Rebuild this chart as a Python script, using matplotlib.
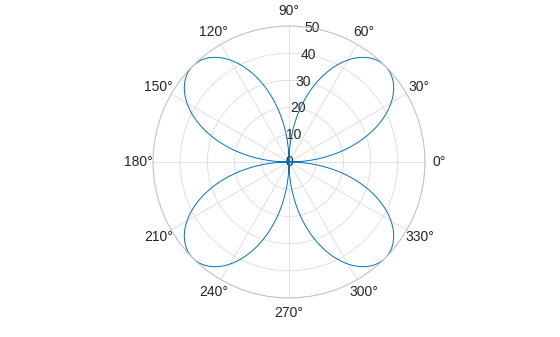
import numpy as np
import matplotlib.pyplot as plt

plt.rcParams['font.family'] = ['Liberation Sans', 'DejaVu Sans']

# rose curve r = amplitude * |sin(petals/2 * theta)|
amplitude = 50
petal_factor = 2
theta = np.arange(0, 2 * np.pi, 0.001)
rho = amplitude * np.abs(np.sin(petal_factor * theta))

r_ticks = [0, 10, 20, 30, 40, 50]
theta_ticks = [0, 30, 60, 90, 120, 150, 180, 210, 240, 270, 300, 330]
theta_labels = [f'{t}°' for t in theta_ticks]

fig = plt.figure(figsize=(5.6, 3.37), dpi=100)
ax = fig.add_axes([0.2732, 0.1157, 0.4857, 0.8071], projection='polar')

ax.plot(theta, rho, color='#0072BD', linewidth=0.7)

ax.set_ylim(0, 50)
ax.set_yticks(r_ticks)
ax.set_yticklabels([str(r) for r in r_ticks], fontsize=10, color='#262626')
ax.set_rlabel_position(80)
ax.set_xticks(np.deg2rad(theta_ticks))
ax.set_xticklabels(theta_labels, fontsize=10, color='#262626')
ax.tick_params(axis='x', pad=0)
ax.grid(True, color='#dcdcdc', linewidth=0.6)
ax.spines['polar'].set_color('#bfbfbf')
ax.spines['polar'].set_linewidth(0.7)
for lbl in ax.get_yticklabels():
    lbl.set_horizontalalignment('center')
    lbl.set_verticalalignment('center')

plt.savefig('out.png', dpi=100)
